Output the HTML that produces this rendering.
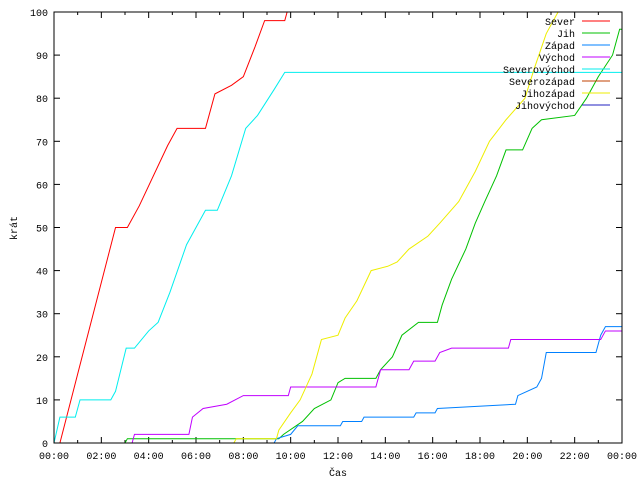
<!DOCTYPE html>
<html><head><meta charset="utf-8"><style>
body{margin:0;background:#fff}
svg text{font-family:"Liberation Mono",monospace;font-size:10px;fill:#000}
</style></head><body>
<svg id="chart" width="640" height="480" xmlns="http://www.w3.org/2000/svg">
<rect width="640" height="480" fill="#fff"/>
<g id="grid"></g>
<g id="series"></g>
<rect x="54" y="12" width="568" height="431" fill="none" stroke="#000" stroke-width="1"/>
<text transform="translate(17,228) rotate(-90)" text-anchor="middle">krát</text>
<text x="338" y="476" text-anchor="middle">Čas</text>
<g id="legend"></g>
</svg>
<script>
const xTicks=["00:00","02:00","04:00","06:00","08:00","10:00","12:00","14:00","16:00","18:00","20:00","22:00","00:00"];
const yTicks=[0,10,20,30,40,50,60,70,80,90,100];
const names=["Sever","Jih","Západ","Východ","Severovýchod","Severozápad","Jihozápad","Jihovýchod"];
const colors=["#ff0000","#00c000","#0080ff","#c000ff","#00eeee","#c04000","#eeee00","#2020c0"];
const sever=[[0,0],[0.25,0],[1.0,16],[2.6,50],[3.1,50],[3.6,55],[4.8,69],[5.2,73],[6.4,73],[6.8,81],[7.5,83],[8.0,85],[8.5,92],[8.9,98],[9.75,98],[9.85,100]];
const jih=[[0,0],[3.0,0],[3.1,1],[9.5,1],[9.7,2],[10.5,5],[11.0,8],[11.7,10],[12.0,14],[12.3,15],[13.6,15],[13.8,17],[14.3,20],[14.7,25],[15.4,28],[16.2,28],[16.4,32],[16.8,38],[17.4,45],[17.8,51],[18.2,56],[18.7,62],[19.1,68],[19.8,68],[20.2,73],[20.6,75],[22.0,76],[22.5,80],[23.0,85],[23.6,90],[23.9,96],[24,96]];
const zapad=[[0,0],[9.3,0],[9.4,1],[10.0,2],[10.3,4],[12.1,4],[12.2,5],[13.0,5],[13.1,6],[15.2,6],[15.3,7],[16.1,7],[16.2,8],[19.5,9],[19.6,11],[20.4,13],[20.6,15],[20.8,21],[22.9,21],[23.1,25],[23.3,27],[24,27]];
const vychod=[[0,0],[3.3,0],[3.4,2],[5.7,2],[5.85,6],[6.3,8],[7.3,9],[8.0,11],[9.9,11],[10.0,13],[13.6,13],[13.8,17],[15.0,17],[15.2,19],[16.1,19],[16.3,21],[16.8,22],[19.2,22],[19.3,24],[23.1,24],[23.3,26],[24,26]];
const sevVych=[[0,0],[0.25,6],[0.9,6],[1.1,10],[2.4,10],[2.6,12],[3.05,22],[3.4,22],[4.0,26],[4.4,28],[4.9,35],[5.6,46],[6.4,54],[6.9,54],[7.5,62],[8.1,73],[8.6,76],[9.3,82],[9.75,86],[24,86]];
const sevZap=[];
const jihZap=[[0,0],[7.6,0],[7.7,1],[9.4,1],[9.5,3],[10.0,7],[10.4,10],[10.9,16],[11.3,24],[12.0,25],[12.3,29],[12.8,33],[13.4,40],[14.1,41],[14.5,42],[15.0,45],[15.8,48],[16.3,51],[17.1,56],[17.8,63],[18.4,70],[19.1,75],[19.9,80],[20.3,87],[20.8,95],[21.3,100]];
const jihVych=[];
const allSeries=[sever,jih,zapad,vychod,sevVych,sevZap,jihZap,jihVych];
const X0=54,X1=622,Y0=443,Y1=12;
const xs=h=>X0+h/24*(X1-X0);
const ys=v=>Y0-v/100*(Y0-Y1);
const NS="http://www.w3.org/2000/svg";
const grid=document.getElementById('grid');
function mk(t,a,p){const e=document.createElementNS(NS,t);for(const k in a)e.setAttribute(k,a[k]);p.appendChild(e);return e;}
yTicks.forEach(v=>{
 const y=ys(v);
 const t=mk('line',{x1:X0,x2:X0+6,y1:y,y2:y,stroke:'#000'},grid);
 
 
 const t2=mk('line',{x1:X1-6,x2:X1,y1:y,y2:y,stroke:'#000'},grid);
 
 
 const l=mk('text',{x:X0-6,y:y+4,'text-anchor':'end'},grid);l.textContent=v;
 
 
});
for(let h=0;h<=24;h++){
 const x=xs(h),len=h%2==0?6:3;
 const t=mk('line',{x1:x,x2:x,y1:Y0,y2:Y0-len,stroke:'#000'},grid);
 
 
 const t2=mk('line',{x1:x,x2:x,y1:Y1,y2:Y1+len,stroke:'#000'},grid);
 
 
}
xTicks.forEach((s,i)=>{
 const l=mk('text',{x:xs(i*2),y:Y0+16,'text-anchor':'middle'},grid);l.textContent=s;
 
 
});
const sg=document.getElementById('series');
allSeries.forEach((d,i)=>{
 if(!d.length)return;
 let p='M'+xs(d[0][0])+','+ys(d[0][1]);
 for(let k=1;k<d.length;k++){p+=' L'+xs(d[k][0])+','+ys(d[k][1]);}
 const e=mk('path',{d:p,fill:'none',stroke:colors[i],'stroke-width':1},sg);
 
 
});
const lg=document.getElementById('legend');
names.forEach((n,i)=>{
 const y=21+i*12;
 const t=mk('text',{x:575,y:y+4,'text-anchor':'end'},lg);t.textContent=n;
 
 
 const l=mk('line',{x1:582,x2:610,y1:y,y2:y,stroke:colors[i]},lg);
 
 
});
</script>
</body></html>
